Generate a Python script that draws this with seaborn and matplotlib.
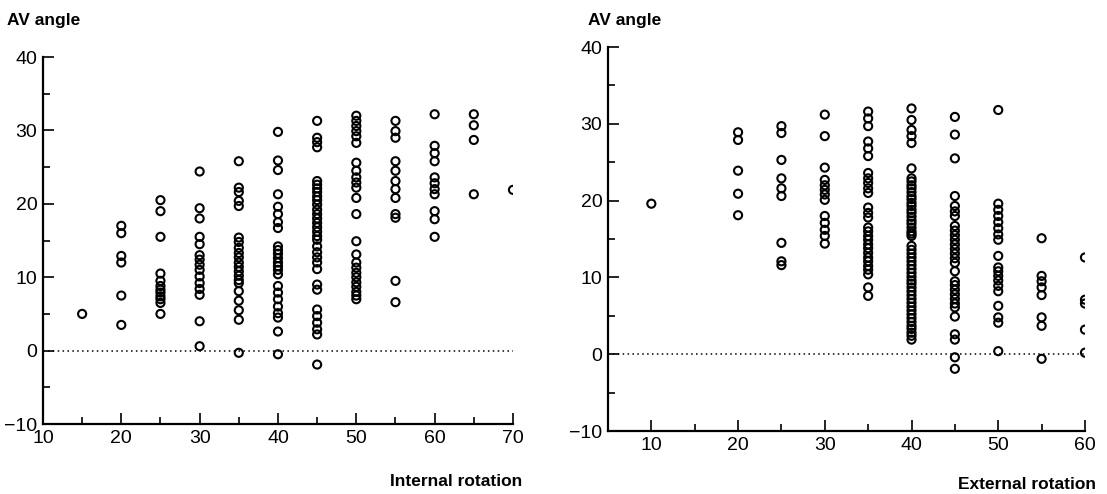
import matplotlib
matplotlib.use("Agg")
import matplotlib.pyplot as plt
import numpy as np
import pandas as pd
import seaborn as sns
from matplotlib.ticker import MultipleLocator

# AV angle values read per rotation column
internal = {
    15: [5.0],
    20: [17.0, 16.0, 12.9, 12.0, 7.5, 3.5],
    25: [20.5, 19.0, 15.5, 10.5, 9.5, 8.8, 8.3, 7.9, 7.4, 7.0, 6.5, 5.0],
    30: [24.4, 19.4, 18.0, 15.5, 14.5, 13.0, 12.4, 11.7, 11.0, 10.1, 9.2, 8.4, 7.6, 4.0, 0.6],
    35: [25.8, 22.2, 21.6, 20.4, 19.7, 15.4, 14.8, 14.0, 13.3, 12.7, 12.0, 11.4, 10.8, 10.2,
         9.6, 9.2, 8.1, 6.8, 5.5, 4.2, -0.3],
    40: [29.8, 25.9, 24.6, 21.3, 19.6, 18.6, 17.5, 16.7, 14.2, 13.7, 13.2, 12.6, 12.0, 11.5,
         11.0, 10.4, 8.8, 7.9, 7.0, 6.0, 5.1, 4.5, 2.6, -0.5],
    45: [31.3, 29.0, 28.4, 27.7, 23.1, 22.6, 22.1, 21.6, 21.0, 20.5, 19.9, 19.2, 18.6, 18.0,
         17.4, 16.8, 16.2, 15.6, 15.1, 14.2, 13.4, 12.7, 12.0, 11.1, 9.0, 8.3, 5.6, 4.7, 3.8,
         2.9, 2.2, -1.9],
    50: [32.0, 31.3, 30.6, 29.9, 29.2, 28.3, 25.6, 24.5, 23.6, 22.9, 22.2, 20.8, 18.6, 14.9,
         13.1, 12.0, 11.3, 10.6, 10.0, 9.3, 8.7, 8.0, 7.5, 7.0],
    55: [31.3, 29.9, 29.0, 25.8, 24.5, 23.1, 22.0, 20.8, 18.6, 18.1, 9.5, 6.6],
    60: [32.2, 27.9, 26.9, 25.8, 23.6, 22.8, 22.0, 21.3, 19.0, 17.9, 15.5],
    65: [32.2, 30.7, 28.7, 21.3],
    70: [21.9],
}

external = {
    10: [19.6],
    20: [28.9, 27.9, 23.9, 20.9, 18.1],
    25: [29.7, 28.8, 25.3, 22.9, 21.6, 20.6, 14.5, 12.1, 11.6],
    30: [31.2, 28.4, 24.3, 22.7, 22.0, 21.4, 20.8, 20.1, 18.0, 17.1, 16.2, 15.4, 14.4],
    35: [31.6, 30.7, 29.7, 27.7, 26.8, 25.8, 23.6, 22.9, 22.3, 21.6, 21.0, 19.1, 18.4, 17.8,
         16.5, 16.0, 15.4, 14.9, 14.3, 13.8, 13.2, 12.6, 12.1, 11.5, 11.0, 10.4, 8.7, 7.6],
    40: [32.0, 30.5, 29.2, 28.4, 27.5, 24.2, 22.9, 22.5, 22.0, 21.6, 21.1, 20.6, 20.2, 19.7,
         19.3, 18.8, 18.4, 17.9, 17.4, 17.0, 16.5, 16.0, 15.7, 15.4, 14.1, 13.6, 13.1, 12.6,
         12.1, 11.6, 11.1, 10.6, 10.1, 9.6, 9.2, 8.7, 8.2, 7.7, 7.2, 6.7, 6.2, 5.7, 5.2, 4.7,
         4.2, 3.7, 3.3, 2.8, 2.4, 1.9],
    45: [30.9, 28.6, 25.5, 20.6, 19.3, 18.6, 18.0, 16.7, 16.1, 15.5, 14.9, 14.3, 13.7, 13.1,
         12.5, 11.9, 10.8, 9.5, 9.0, 8.4, 7.8, 7.2, 6.6, 6.1, 4.9, 2.6, 1.9, -0.4, -1.9],
    50: [31.8, 19.6, 18.8, 18.0, 17.2, 16.4, 15.6, 14.9, 12.8, 11.3, 10.8, 10.2, 9.6, 8.9,
         8.2, 6.3, 4.8, 4.1, 0.4],
    55: [15.1, 10.2, 9.5, 8.7, 7.7, 4.8, 3.7, -0.6],
    60: [12.6, 7.1, 6.6, 3.2, 0.2],
}


def to_frame(d):
    rows = [(k, v) for k, vals in d.items() for v in vals]
    return pd.DataFrame(rows, columns=["rotation", "av"])


df_int = to_frame(internal)
df_ext = to_frame(external)

sns.set_style("white")
plt.rcParams["font.family"] = ["Liberation Sans", "DejaVu Sans"]
plt.rcParams["text.color"] = "black"
plt.rcParams["xtick.direction"] = "in"
plt.rcParams["ytick.direction"] = "in"

fig = plt.figure(figsize=(11.07, 4.94), dpi=100)
ax1 = fig.add_axes([0.0388, 0.1417, 0.4246, 0.7429])
ax2 = fig.add_axes([0.5492, 0.1275, 0.4309, 0.7773])

panels = [
    (ax1, df_int, (10, 70), "Internal rotation"),
    (ax2, df_ext, (5, 60), "External rotation"),
]

for ax, df, xlim, xlabel in panels:
    ax.axhline(0, color="black", linestyle=(0, (1, 2.2)), linewidth=1.1, zorder=1)
    sns.scatterplot(data=df, x="rotation", y="av", ax=ax, marker="o", s=34,
                    facecolor="none", edgecolor="black", linewidth=1.5, zorder=3)
    ax.set_xlim(*xlim)
    ax.set_ylim(-10, 40)
    ax.set_yticks([-10, 0, 10, 20, 30, 40])
    ax.set_yticklabels(["\u221210", "0", "10", "20", "30", "40"])
    ax.xaxis.set_major_locator(MultipleLocator(10))
    ax.xaxis.set_minor_locator(MultipleLocator(5))
    ax.yaxis.set_minor_locator(MultipleLocator(5))
    ax.tick_params(which="both", direction="in", width=1.2, colors="black",
                   labelcolor="black", labelsize=14, pad=4,
                   bottom=True, left=True, top=False, right=False)
    ax.tick_params(which="major", length=8)
    ax.tick_params(which="minor", length=5)
    for side in ["top", "right"]:
        ax.spines[side].set_visible(False)
    for side in ["left", "bottom"]:
        ax.spines[side].set_linewidth(1.6)
        ax.spines[side].set_color("black")
    ax.set_xlabel("")
    ax.set_ylabel("")

fig.text(0.006, 0.958, "AV angle", fontsize=12.5, fontweight="bold", va="center")
fig.text(0.531, 0.958, "AV angle", fontsize=12.5, fontweight="bold", va="center")
fig.text(0.472, 0.026, "Internal rotation", fontsize=12.5, fontweight="bold",
         ha="right", va="center")
fig.text(0.990, 0.020, "External rotation", fontsize=12.5, fontweight="bold",
         ha="right", va="center")

fig.savefig("out.png", dpi=100)
